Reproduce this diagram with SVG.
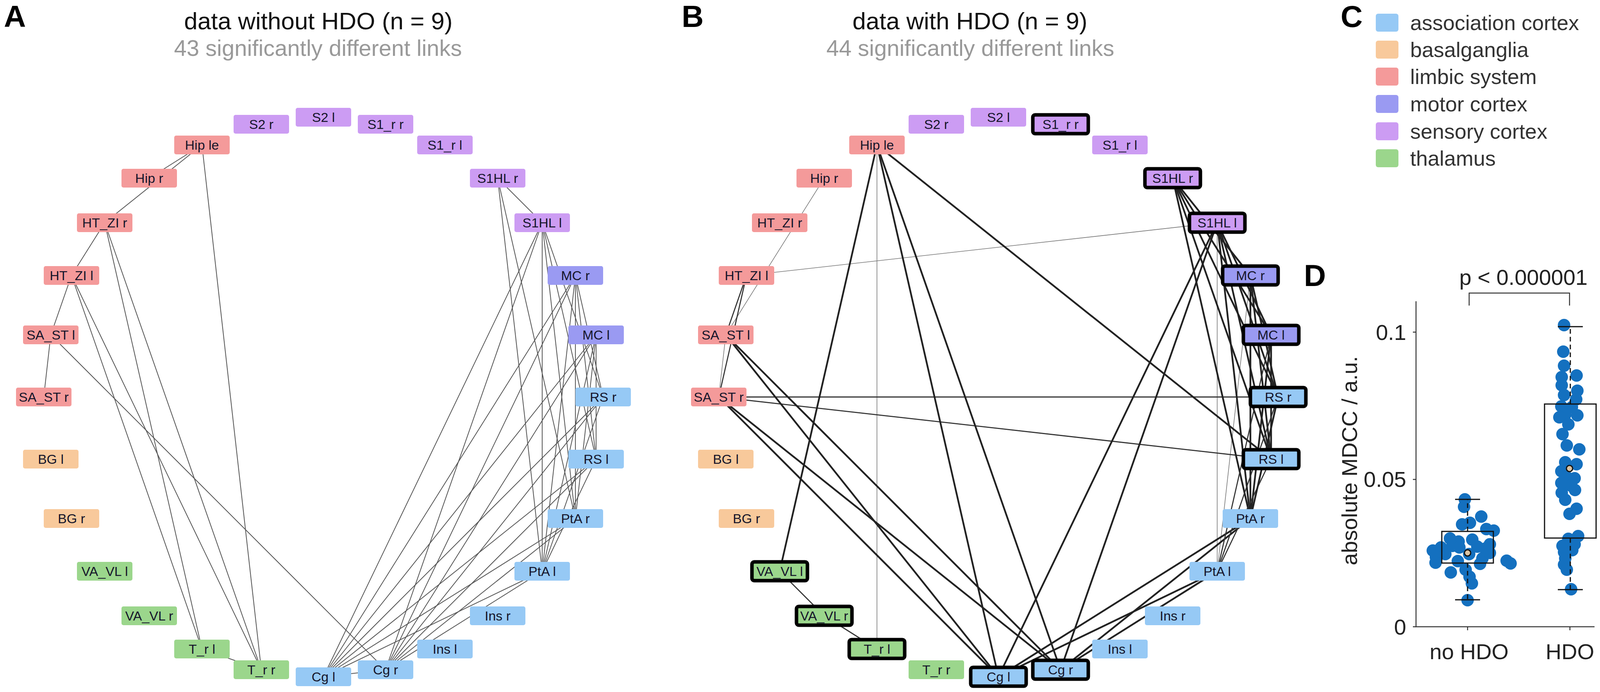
<svg xmlns="http://www.w3.org/2000/svg" width="4317" height="1771" viewBox="0 0 4317 1771">
<style>
text{font-family:"Liberation Sans",Arial,Helvetica,sans-serif}
.asc{fill:#96c9f5}.bg{fill:#f8c99b}.lim{fill:#f49a9a}.mot{fill:#9a9af2}.sen{fill:#cc9cf3}.thal{fill:#9bd68c}
.lbl{font-size:34px;fill:#15152a;text-anchor:middle}
.hl{stroke:#000;stroke-width:9}
.eA line{stroke:#555;stroke-width:2}
.ek{stroke:#222;stroke-width:4.5}
.em{stroke:#333;stroke-width:2.8}
.et{stroke:#777;stroke-width:1.6}
.panel{font-size:78px;font-weight:bold;fill:#000}
.title{font-size:62px;fill:#111;text-anchor:middle}
.sub{font-size:58px;fill:#999;text-anchor:middle}
.leg{font-size:54px;fill:#333}
.ax{font-size:56px;fill:#222}
.pt{fill:#1470bf}
.bx{fill:none;stroke:#111;stroke-width:3}
.wh{fill:none;stroke:#111;stroke-width:3;stroke-dasharray:12 8}
</style>

<!-- Panel labels and titles -->
<text class="panel" x="10" y="69">A</text>
<text class="panel" x="1745" y="69">B</text>
<text class="panel" x="3432" y="69">C</text>
<text class="title" x="815" y="75">data without HDO (n = 9)</text>
<text class="sub" x="814" y="143">43 significantly different links</text>
<text class="title" x="2483" y="75">data with HDO (n = 9)</text>
<text class="sub" x="2484" y="143">44 significantly different links</text>

<!-- Panel A connectors -->
<g id="connectors-A" class="eA">
<line x1="517" y1="371" x2="382" y2="456"/>
<line x1="517" y1="371" x2="268" y2="570"/>
<line x1="517" y1="371" x2="669" y2="1714"/>
<line x1="268" y1="570" x2="183" y2="705"/>
<line x1="268" y1="570" x2="517" y2="1661"/>
<line x1="268" y1="570" x2="669" y2="1714"/>
<line x1="183" y1="705" x2="130" y2="857"/>
<line x1="183" y1="705" x2="517" y2="1661"/>
<line x1="183" y1="705" x2="669" y2="1714"/>
<line x1="130" y1="857" x2="112" y2="1016"/>
<line x1="130" y1="857" x2="987" y2="1714"/>
<line x1="517" y1="1661" x2="669" y2="1714"/>
<line x1="828" y1="1732" x2="987" y2="1714"/>
<line x1="1388" y1="570" x2="828" y2="1732"/>
<line x1="1388" y1="570" x2="987" y2="1714"/>
<line x1="1473" y1="705" x2="828" y2="1732"/>
<line x1="1473" y1="705" x2="987" y2="1714"/>
<line x1="1526" y1="857" x2="828" y2="1732"/>
<line x1="1526" y1="857" x2="987" y2="1714"/>
<line x1="1544" y1="1016" x2="828" y2="1732"/>
<line x1="1544" y1="1016" x2="987" y2="1714"/>
<line x1="1526" y1="1175" x2="828" y2="1732"/>
<line x1="1526" y1="1175" x2="987" y2="1714"/>
<line x1="1473" y1="1327" x2="828" y2="1732"/>
<line x1="1473" y1="1327" x2="987" y2="1714"/>
<line x1="1388" y1="1462" x2="828" y2="1732"/>
<line x1="1388" y1="1462" x2="987" y2="1714"/>
<line x1="1274" y1="456" x2="1388" y2="570"/>
<line x1="1274" y1="456" x2="1388" y2="1462"/>
<line x1="1274" y1="456" x2="1473" y2="1327"/>
<line x1="1388" y1="570" x2="1388" y2="1462"/>
<line x1="1388" y1="570" x2="1473" y2="1327"/>
<line x1="1388" y1="570" x2="1544" y2="1016"/>
<line x1="1388" y1="570" x2="1526" y2="1175"/>
<line x1="1473" y1="705" x2="1544" y2="1016"/>
<line x1="1473" y1="705" x2="1526" y2="1175"/>
<line x1="1473" y1="705" x2="1473" y2="1327"/>
<line x1="1473" y1="705" x2="1388" y2="1462"/>
<line x1="1526" y1="857" x2="1526" y2="1175"/>
<line x1="1526" y1="857" x2="1473" y2="1327"/>
<line x1="1526" y1="857" x2="1388" y2="1462"/>
<line x1="1544" y1="1016" x2="1388" y2="1462"/>
<line x1="1526" y1="1175" x2="1388" y2="1462"/>
</g>

<!-- Panel B connectors -->
<g id="connectors-B">
<line class="et" x1="2110" y1="456" x2="1858" y2="857"/>
<line class="et" x1="1858" y1="857" x2="1840" y2="1016"/>
<line class="et" x1="1911" y1="705" x2="3116" y2="570"/>
<line class="et" x1="2245" y1="371" x2="2245" y2="1661"/>
<line class="et" x1="3201" y1="705" x2="3116" y2="1462"/>
<line class="et" x1="3116" y1="570" x2="3116" y2="1462"/>
<line class="em" x1="1911" y1="705" x2="1858" y2="857"/>
<line class="em" x1="1911" y1="705" x2="1840" y2="1016"/>
<line class="em" x1="1840" y1="1016" x2="3272" y2="1016"/>
<line class="em" x1="1840" y1="1016" x2="3254" y2="1175"/>
<line class="em" x1="1996" y1="1462" x2="2110" y2="1576"/>
<line class="em" x1="2110" y1="1576" x2="2245" y2="1661"/>
<line class="ek" x1="2245" y1="371" x2="1996" y2="1462"/>
<line class="ek" x1="2245" y1="371" x2="2556" y2="1732"/>
<line class="ek" x1="2245" y1="371" x2="2715" y2="1714"/>
<line class="ek" x1="2245" y1="371" x2="3254" y2="1175"/>
<line class="ek" x1="1858" y1="857" x2="2556" y2="1732"/>
<line class="ek" x1="1858" y1="857" x2="2715" y2="1714"/>
<line class="ek" x1="1840" y1="1016" x2="2556" y2="1732"/>
<line class="ek" x1="1840" y1="1016" x2="2715" y2="1714"/>
<line class="ek" x1="3116" y1="570" x2="2556" y2="1732"/>
<line class="ek" x1="3116" y1="570" x2="2715" y2="1714"/>
<line class="ek" x1="3201" y1="1327" x2="2556" y2="1732"/>
<line class="ek" x1="3201" y1="1327" x2="2715" y2="1714"/>
<line class="ek" x1="3116" y1="1462" x2="2556" y2="1732"/>
<line class="ek" x1="3116" y1="1462" x2="2715" y2="1714"/>
<line class="ek" x1="3002" y1="456" x2="3254" y2="857"/>
<line class="ek" x1="3002" y1="456" x2="3272" y2="1016"/>
<line class="ek" x1="3002" y1="456" x2="3254" y2="1175"/>
<line class="ek" x1="3002" y1="456" x2="3201" y2="1327"/>
<line class="ek" x1="3002" y1="456" x2="3201" y2="705"/>
<line class="ek" x1="3116" y1="570" x2="3254" y2="857"/>
<line class="ek" x1="3116" y1="570" x2="3272" y2="1016"/>
<line class="ek" x1="3116" y1="570" x2="3254" y2="1175"/>
<line class="ek" x1="3116" y1="570" x2="3201" y2="1327"/>
<line class="ek" x1="3201" y1="705" x2="3272" y2="1016"/>
<line class="ek" x1="3201" y1="705" x2="3254" y2="1175"/>
<line class="ek" x1="3201" y1="705" x2="3201" y2="1327"/>
<line class="ek" x1="3254" y1="857" x2="3254" y2="1175"/>
<line class="ek" x1="3254" y1="857" x2="3201" y2="1327"/>
<line class="em" x1="3254" y1="857" x2="3116" y2="1462"/>
<line class="em" x1="3272" y1="1016" x2="3116" y2="1462"/>
<line class="em" x1="3254" y1="1175" x2="3116" y2="1462"/>
<line class="ek" x1="3272" y1="1016" x2="3201" y2="1327"/>
</g>

<!-- Panel A nodes -->
<g id="a-S2l"><rect class="sen" x="757" y="276" width="142" height="48" rx="5"/><text class="lbl" x="828" y="312">S2 l</text></g>
<g id="a-S2r"><rect class="sen" x="598" y="294" width="142" height="48" rx="5"/><text class="lbl" x="669" y="330">S2 r</text></g>
<g id="a-Hiple"><rect class="lim" x="446" y="347" width="142" height="48" rx="5"/><text class="lbl" x="517" y="383">Hip le</text></g>
<g id="a-Hipr"><rect class="lim" x="311" y="432" width="142" height="48" rx="5"/><text class="lbl" x="382" y="468">Hip r</text></g>
<g id="a-HTZIr"><rect class="lim" x="197" y="546" width="142" height="48" rx="5"/><text class="lbl" x="268" y="582">HT_ZI r</text></g>
<g id="a-HTZIl"><rect class="lim" x="112" y="681" width="142" height="48" rx="5"/><text class="lbl" x="183" y="717">HT_ZI l</text></g>
<g id="a-SASTl"><rect class="lim" x="59" y="833" width="142" height="48" rx="5"/><text class="lbl" x="130" y="869">SA_ST l</text></g>
<g id="a-SASTr"><rect class="lim" x="41" y="992" width="142" height="48" rx="5"/><text class="lbl" x="112" y="1028">SA_ST r</text></g>
<g id="a-BGl"><rect class="bg" x="59" y="1151" width="142" height="48" rx="5"/><text class="lbl" x="130" y="1187">BG l</text></g>
<g id="a-BGr"><rect class="bg" x="112" y="1303" width="142" height="48" rx="5"/><text class="lbl" x="183" y="1339">BG r</text></g>
<g id="a-VAVLl"><rect class="thal" x="197" y="1438" width="142" height="48" rx="5"/><text class="lbl" x="268" y="1474">VA_VL l</text></g>
<g id="a-VAVLr"><rect class="thal" x="311" y="1552" width="142" height="48" rx="5"/><text class="lbl" x="382" y="1588">VA_VL r</text></g>
<g id="a-Trl"><rect class="thal" x="446" y="1637" width="142" height="48" rx="5"/><text class="lbl" x="517" y="1673">T_r l</text></g>
<g id="a-Trr"><rect class="thal" x="598" y="1690" width="142" height="48" rx="5"/><text class="lbl" x="669" y="1726">T_r r</text></g>
<g id="a-Cgl"><rect class="asc" x="757" y="1708" width="142" height="48" rx="5"/><text class="lbl" x="828" y="1744">Cg l</text></g>
<g id="a-Cgr"><rect class="asc" x="916" y="1690" width="142" height="48" rx="5"/><text class="lbl" x="987" y="1726">Cg r</text></g>
<g id="a-Insl"><rect class="asc" x="1068" y="1637" width="142" height="48" rx="5"/><text class="lbl" x="1139" y="1673">Ins l</text></g>
<g id="a-Insr"><rect class="asc" x="1203" y="1552" width="142" height="48" rx="5"/><text class="lbl" x="1274" y="1588">Ins r</text></g>
<g id="a-PtAl"><rect class="asc" x="1317" y="1438" width="142" height="48" rx="5"/><text class="lbl" x="1388" y="1474">PtA l</text></g>
<g id="a-PtAr"><rect class="asc" x="1402" y="1303" width="142" height="48" rx="5"/><text class="lbl" x="1473" y="1339">PtA r</text></g>
<g id="a-RSl"><rect class="asc" x="1455" y="1151" width="142" height="48" rx="5"/><text class="lbl" x="1526" y="1187">RS l</text></g>
<g id="a-RSr"><rect class="asc" x="1473" y="992" width="142" height="48" rx="5"/><text class="lbl" x="1544" y="1028">RS r</text></g>
<g id="a-MCl"><rect class="mot" x="1455" y="833" width="142" height="48" rx="5"/><text class="lbl" x="1526" y="869">MC l</text></g>
<g id="a-MCr"><rect class="mot" x="1402" y="681" width="142" height="48" rx="5"/><text class="lbl" x="1473" y="717">MC r</text></g>
<g id="a-S1HLl"><rect class="sen" x="1317" y="546" width="142" height="48" rx="5"/><text class="lbl" x="1388" y="582">S1HL l</text></g>
<g id="a-S1HLr"><rect class="sen" x="1203" y="432" width="142" height="48" rx="5"/><text class="lbl" x="1274" y="468">S1HL r</text></g>
<g id="a-S1rl"><rect class="sen" x="1068" y="347" width="142" height="48" rx="5"/><text class="lbl" x="1139" y="383">S1_r l</text></g>
<g id="a-S1rr"><rect class="sen" x="916" y="294" width="142" height="48" rx="5"/><text class="lbl" x="987" y="330">S1_r r</text></g>

<!-- Panel B nodes -->
<g id="b-S2l"><rect class="sen" x="2485" y="276" width="142" height="48" rx="5"/><text class="lbl" x="2556" y="312">S2 l</text></g>
<g id="b-S2r"><rect class="sen" x="2326" y="294" width="142" height="48" rx="5"/><text class="lbl" x="2397" y="330">S2 r</text></g>
<g id="b-Hiple"><rect class="lim" x="2174" y="347" width="142" height="48" rx="5"/><text class="lbl" x="2245" y="383">Hip le</text></g>
<g id="b-Hipr"><rect class="lim" x="2039" y="432" width="142" height="48" rx="5"/><text class="lbl" x="2110" y="468">Hip r</text></g>
<g id="b-HTZIr"><rect class="lim" x="1925" y="546" width="142" height="48" rx="5"/><text class="lbl" x="1996" y="582">HT_ZI r</text></g>
<g id="b-HTZIl"><rect class="lim" x="1840" y="681" width="142" height="48" rx="5"/><text class="lbl" x="1911" y="717">HT_ZI l</text></g>
<g id="b-SASTl"><rect class="lim" x="1787" y="833" width="142" height="48" rx="5"/><text class="lbl" x="1858" y="869">SA_ST l</text></g>
<g id="b-SASTr"><rect class="lim" x="1769" y="992" width="142" height="48" rx="5"/><text class="lbl" x="1840" y="1028">SA_ST r</text></g>
<g id="b-BGl"><rect class="bg" x="1787" y="1151" width="142" height="48" rx="5"/><text class="lbl" x="1858" y="1187">BG l</text></g>
<g id="b-BGr"><rect class="bg" x="1840" y="1303" width="142" height="48" rx="5"/><text class="lbl" x="1911" y="1339">BG r</text></g>
<g id="b-VAVLl"><rect class="thal hl" x="1925" y="1438" width="142" height="48" rx="6"/><text class="lbl" x="1996" y="1474">VA_VL l</text></g>
<g id="b-VAVLr"><rect class="thal hl" x="2039" y="1552" width="142" height="48" rx="6"/><text class="lbl" x="2110" y="1588">VA_VL r</text></g>
<g id="b-Trl"><rect class="thal hl" x="2174" y="1637" width="142" height="48" rx="6"/><text class="lbl" x="2245" y="1673">T_r l</text></g>
<g id="b-Trr"><rect class="thal" x="2326" y="1690" width="142" height="48" rx="5"/><text class="lbl" x="2397" y="1726">T_r r</text></g>
<g id="b-Cgl"><rect class="asc hl" x="2485" y="1708" width="142" height="48" rx="6"/><text class="lbl" x="2556" y="1744">Cg l</text></g>
<g id="b-Cgr"><rect class="asc hl" x="2644" y="1690" width="142" height="48" rx="6"/><text class="lbl" x="2715" y="1726">Cg r</text></g>
<g id="b-Insl"><rect class="asc" x="2796" y="1637" width="142" height="48" rx="5"/><text class="lbl" x="2867" y="1673">Ins l</text></g>
<g id="b-Insr"><rect class="asc" x="2931" y="1552" width="142" height="48" rx="5"/><text class="lbl" x="3002" y="1588">Ins r</text></g>
<g id="b-PtAl"><rect class="asc" x="3045" y="1438" width="142" height="48" rx="5"/><text class="lbl" x="3116" y="1474">PtA l</text></g>
<g id="b-PtAr"><rect class="asc" x="3130" y="1303" width="142" height="48" rx="5"/><text class="lbl" x="3201" y="1339">PtA r</text></g>
<g id="b-RSl"><rect class="asc hl" x="3183" y="1151" width="142" height="48" rx="6"/><text class="lbl" x="3254" y="1187">RS l</text></g>
<g id="b-RSr"><rect class="asc hl" x="3201" y="992" width="142" height="48" rx="6"/><text class="lbl" x="3272" y="1028">RS r</text></g>
<g id="b-MCl"><rect class="mot hl" x="3183" y="833" width="142" height="48" rx="6"/><text class="lbl" x="3254" y="869">MC l</text></g>
<g id="b-MCr"><rect class="mot hl" x="3130" y="681" width="142" height="48" rx="6"/><text class="lbl" x="3201" y="717">MC r</text></g>
<g id="b-S1HLl"><rect class="sen hl" x="3045" y="546" width="142" height="48" rx="6"/><text class="lbl" x="3116" y="582">S1HL l</text></g>
<g id="b-S1HLr"><rect class="sen hl" x="2931" y="432" width="142" height="48" rx="6"/><text class="lbl" x="3002" y="468">S1HL r</text></g>
<g id="b-S1rl"><rect class="sen" x="2796" y="347" width="142" height="48" rx="5"/><text class="lbl" x="2867" y="383">S1_r l</text></g>
<g id="b-S1rr"><rect class="sen hl" x="2644" y="294" width="142" height="48" rx="6"/><text class="lbl" x="2715" y="330">S1_r r</text></g>

<!-- Panel C legend -->
<g id="legend">
<rect class="asc" x="3522" y="35" width="58" height="46" rx="6"/><text class="leg" x="3610" y="77">association cortex</text>
<rect class="bg" x="3522" y="104" width="58" height="46" rx="6"/><text class="leg" x="3610" y="146">basalganglia</text>
<rect class="lim" x="3522" y="173" width="58" height="46" rx="6"/><text class="leg" x="3610" y="215">limbic system</text>
<rect class="mot" x="3522" y="243" width="58" height="46" rx="6"/><text class="leg" x="3610" y="285">motor cortex</text>
<rect class="sen" x="3522" y="313" width="58" height="46" rx="6"/><text class="leg" x="3610" y="355">sensory cortex</text>
<rect class="thal" x="3522" y="382" width="58" height="46" rx="6"/><text class="leg" x="3610" y="424">thalamus</text>
</g>

<!-- Panel D plot -->
<g id="plot-D" transform="translate(-150 0)">
<text class="panel" x="3488" y="732" font-size="74">D</text>
<path d="M3911 782 V750 H4168 V782" fill="none" stroke="#333" stroke-width="2.5"/>
<text class="ax" x="4050" y="729" text-anchor="middle" font-size="58">p &lt; 0.000001</text>
<path d="M3775 771 V1604 H4232" fill="none" stroke="#333" stroke-width="2.5"/>
<path d="M3767 850 H3775 M3767 1227 H3775 M3767 1604 H3775 M3907 1604 V1613 M4169 1604 V1613" stroke="#333" stroke-width="2.5"/>
<text class="ax" x="3750" y="870" text-anchor="end">0.1</text>
<text class="ax" x="3750" y="1246" text-anchor="end">0.05</text>
<text class="ax" x="3750" y="1624" text-anchor="end">0</text>
<text class="ax" x="3911" y="1687" text-anchor="middle" font-size="58">no HDO</text>
<text class="ax" x="4169" y="1687" text-anchor="middle" font-size="58">HDO</text>
<text class="ax" transform="translate(3624 1179) rotate(-90)" text-anchor="middle" font-size="58">absolute MDCC / a.u.</text>
<g id="points-noHDO" class="pt">
<circle cx="3900" cy="1278" r="16"/><circle cx="3898" cy="1297" r="16"/><circle cx="3942" cy="1322" r="16"/><circle cx="3893" cy="1342" r="16"/>
<circle cx="3913" cy="1338" r="16"/><circle cx="3955" cy="1354" r="16"/><circle cx="3974" cy="1358" r="16"/><circle cx="3862" cy="1378" r="16"/>
<circle cx="3884" cy="1386" r="16"/><circle cx="3919" cy="1381" r="16"/><circle cx="3964" cy="1393" r="16"/><circle cx="3818" cy="1409" r="16"/>
<circle cx="3839" cy="1401" r="16"/><circle cx="3868" cy="1397" r="16"/><circle cx="3886" cy="1401" r="16"/><circle cx="3932" cy="1399" r="16"/>
<circle cx="3952" cy="1404" r="16"/><circle cx="3826" cy="1426" r="16"/><circle cx="3850" cy="1418" r="16"/><circle cx="3945" cy="1429" r="16"/>
<circle cx="4007" cy="1435" r="16"/><circle cx="4017" cy="1442" r="16"/><circle cx="3825" cy="1440" r="16"/><circle cx="3864" cy="1465" r="16"/>
<circle cx="3902" cy="1458" r="16"/><circle cx="3912" cy="1476" r="16"/><circle cx="3918" cy="1493" r="16"/><circle cx="3907" cy="1536" r="16"/>
<circle cx="3911" cy="1418" r="16"/><circle cx="3939" cy="1443" r="16"/><circle cx="3882" cy="1436" r="16"/><circle cx="3964" cy="1415" r="16"/>
</g>
<g id="points-HDO" class="pt">
<circle cx="4154" cy="832" r="16"/><circle cx="4152" cy="900" r="16"/><circle cx="4154" cy="936" r="16"/><circle cx="4186" cy="961" r="16"/>
<circle cx="4148" cy="965" r="16"/><circle cx="4148" cy="986" r="16"/><circle cx="4188" cy="1000" r="16"/><circle cx="4154" cy="1011" r="16"/>
<circle cx="4185" cy="1022" r="16"/><circle cx="4147" cy="1040" r="16"/><circle cx="4174" cy="1042" r="16"/><circle cx="4188" cy="1063" r="16"/>
<circle cx="4157" cy="1061" r="16"/><circle cx="4142" cy="1068" r="16"/><circle cx="4150" cy="1111" r="16"/><circle cx="4165" cy="1086" r="16"/>
<circle cx="4161" cy="1140" r="16"/><circle cx="4193" cy="1150" r="16"/><circle cx="4157" cy="1183" r="16"/><circle cx="4186" cy="1188" r="16"/>
<circle cx="4147" cy="1206" r="16"/><circle cx="4162" cy="1222" r="16"/><circle cx="4181" cy="1224" r="16"/><circle cx="4172" cy="1243" r="16"/>
<circle cx="4148" cy="1261" r="16"/><circle cx="4182" cy="1254" r="16"/><circle cx="4147" cy="1236" r="16"/><circle cx="4157" cy="1279" r="16"/>
<circle cx="4186" cy="1302" r="16"/><circle cx="4168" cy="1315" r="16"/><circle cx="4190" cy="1372" r="16"/><circle cx="4165" cy="1379" r="16"/>
<circle cx="4150" cy="1397" r="16"/><circle cx="4181" cy="1393" r="16"/><circle cx="4154" cy="1413" r="16"/><circle cx="4175" cy="1408" r="16"/>
<circle cx="4157" cy="1429" r="16"/><circle cx="4154" cy="1445" r="16"/><circle cx="4161" cy="1458" r="16"/><circle cx="4172" cy="1508" r="16"/>
</g>
<g id="box-noHDO">
<path class="wh" d="M3907 1360 V1278 M3907 1441 V1535"/>
<path class="bx" d="M3875 1278 H3939 M3875 1535 H3939"/>
<rect class="bx" x="3841" y="1360" width="132" height="81"/>
<circle cx="3907" cy="1415" r="8" fill="#dcc3a2" stroke="#111" stroke-width="3"/>
</g>
<g id="box-HDO">
<path class="wh" d="M4170 1034 V836 M4170 1377 V1509"/>
<path class="bx" d="M4138 836 H4202 M4138 1509 H4202"/>
<rect class="bx" x="4104" y="1034" width="132" height="343"/>
<circle cx="4168" cy="1199" r="8" fill="#dcc3a2" stroke="#111" stroke-width="3"/>
</g>
</g>
</svg>
